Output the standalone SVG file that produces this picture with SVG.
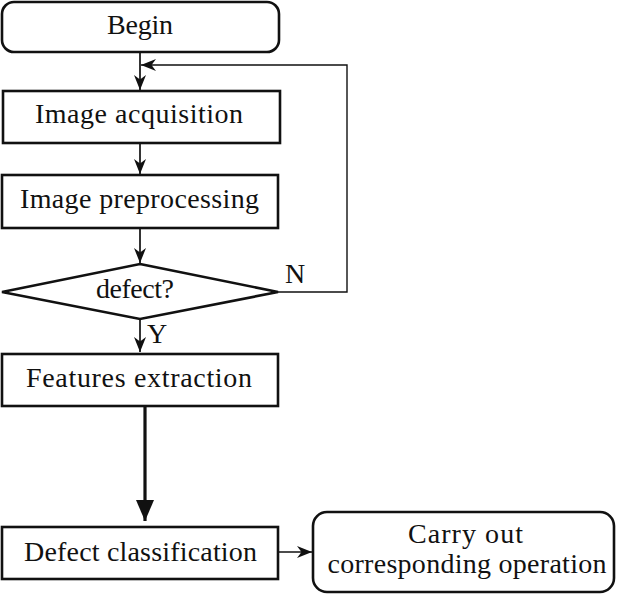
<svg xmlns="http://www.w3.org/2000/svg" width="617" height="594" viewBox="0 0 617 594">
<style>
.box{fill:#fff;stroke:#111;stroke-width:2.6}
.t{font-family:'Liberation Serif','DejaVu Serif',serif;font-size:28px;fill:#111;text-anchor:middle}
.c{fill:none;stroke:#111;stroke-width:1.7}
.thin{fill:none;stroke:#111;stroke-width:1.4}
.thick{fill:none;stroke:#111;stroke-width:3.2}
</style>
<defs>
<marker id="ah" viewBox="-16 -7 17 14" refX="0" refY="0" markerWidth="17" markerHeight="14" markerUnits="userSpaceOnUse" orient="auto">
<path d="M0,0 L-15,-6 L-10.5,0 L-15,6 Z" fill="#111"/>
</marker>
<marker id="big" viewBox="-22 -10 23 20" refX="0" refY="0" markerWidth="23" markerHeight="20" markerUnits="userSpaceOnUse" orient="auto">
<path d="M0,0 L-21,-9 L-21,9 Z" fill="#111"/>
</marker>
</defs>
<g id="connectors">
<path class="c" d="M140,53 V90" marker-end="url(#ah)"/>
<path class="thin" d="M278,292 H347 V65 H141" marker-end="url(#ah)"/>
<path class="c" d="M140,143 V174" marker-end="url(#ah)"/>
<path class="c" d="M140,228 V263" marker-end="url(#ah)"/>
<path class="c" d="M140,319 V352" marker-end="url(#ah)"/>
<path class="thick" d="M145,403 V521" marker-end="url(#big)"/>
<path class="c" d="M278,552 H312" marker-end="url(#ah)"/>
<text class="t" x="295" y="283">N</text>
<text class="t" x="157" y="343">Y</text>
</g>
<g id="begin">
<rect class="box" x="2" y="2" width="277" height="50" rx="12"/>
<text class="t" x="140" y="34" textLength="66" lengthAdjust="spacing">Begin</text>
</g>
<g id="acquisition">
<rect class="box" x="3" y="91" width="277" height="52"/>
<text class="t" x="139" y="123" textLength="208" lengthAdjust="spacing">Image acquisition</text>
</g>
<g id="preprocessing">
<rect class="box" x="2" y="175" width="276" height="53"/>
<text class="t" x="139.5" y="208" textLength="239" lengthAdjust="spacing">Image preprocessing</text>
</g>
<g id="decision">
<polygon class="box" points="140,264 278,292 140,319 2,292"/>
<text class="t" x="135" y="298" textLength="78" lengthAdjust="spacing">defect?</text>
</g>
<g id="features">
<rect class="box" x="2" y="354" width="276" height="52"/>
<text class="t" x="139" y="387" textLength="226" lengthAdjust="spacing">Features extraction</text>
</g>
<g id="classification">
<rect class="box" x="2" y="527" width="276" height="52"/>
<text class="t" x="140.5" y="561" textLength="233" lengthAdjust="spacing">Defect classification</text>
</g>
<g id="operation">
<rect class="box" x="313" y="512" width="301" height="80" rx="14"/>
<text class="t" x="465.5" y="543" textLength="115" lengthAdjust="spacing">Carry out</text>
<text class="t" x="467" y="573" textLength="279" lengthAdjust="spacing">corresponding operation</text>
</g>
</svg>
